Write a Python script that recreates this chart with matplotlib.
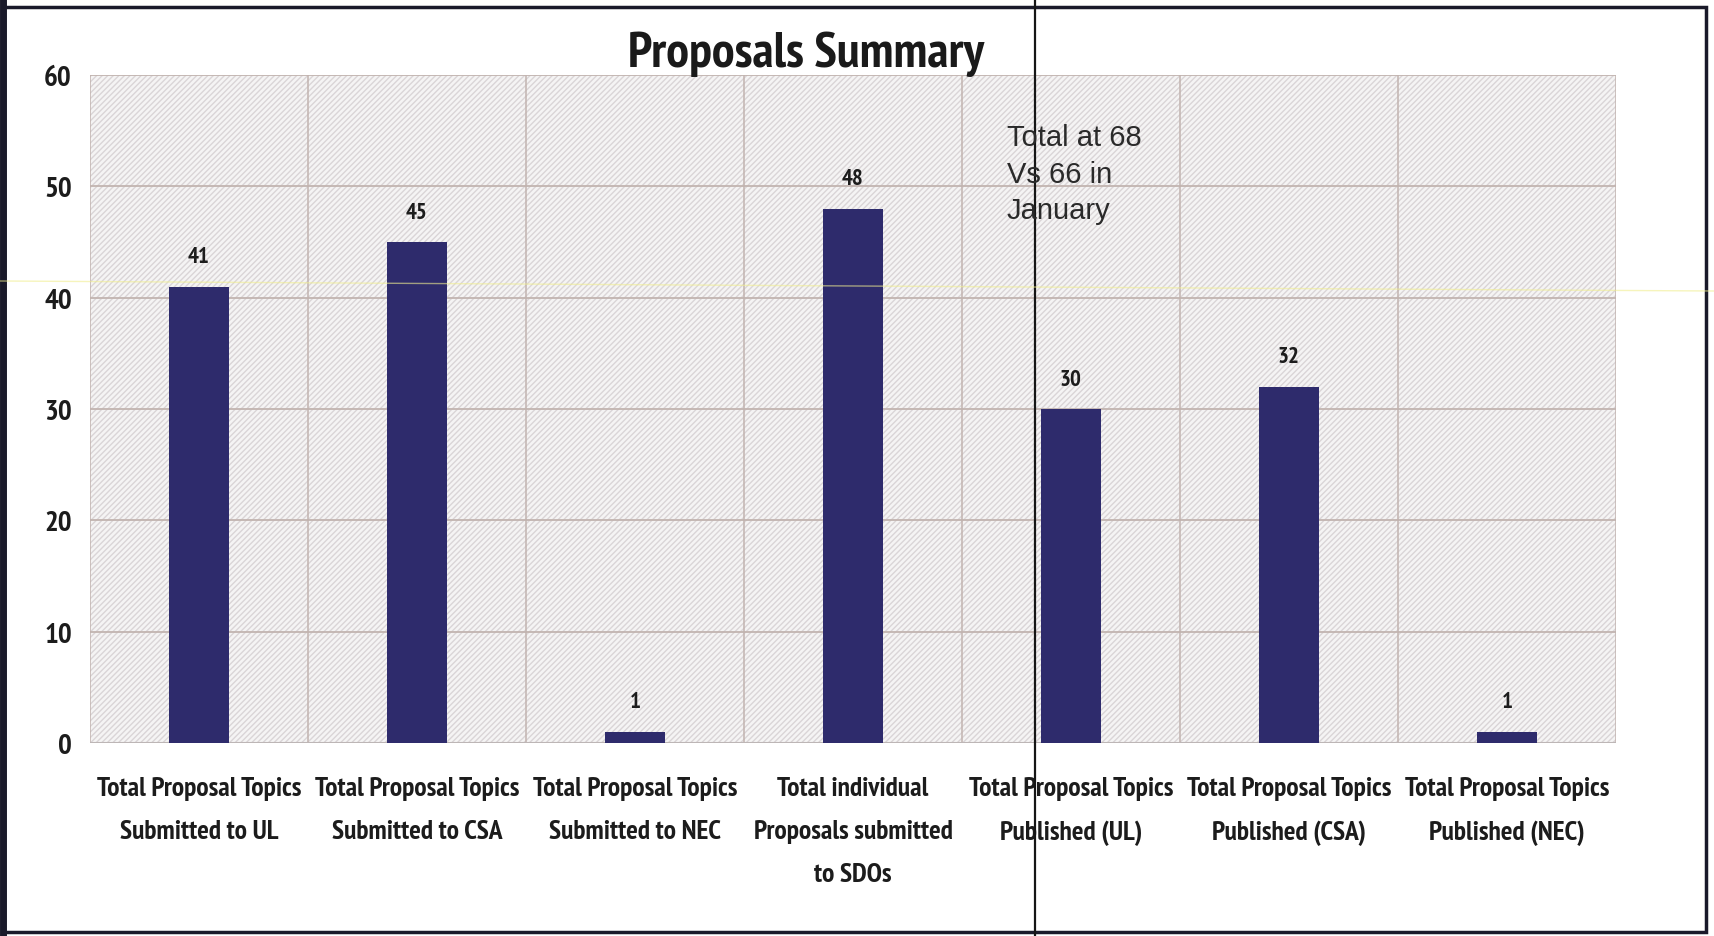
import matplotlib
matplotlib.use("Agg")
import matplotlib.pyplot as plt
from matplotlib import font_manager as fm
from matplotlib.font_manager import FontProperties
from matplotlib.patches import Rectangle
from matplotlib.lines import Line2D

categories = [
    "Total Proposal Topics\nSubmitted to UL",
    "Total Proposal Topics\nSubmitted to CSA",
    "Total Proposal Topics\nSubmitted to NEC",
    "Total individual\nProposals submitted\nto SDOs",
    "Total Proposal Topics\nPublished (UL)",
    "Total Proposal Topics\nPublished (CSA)",
    "Total Proposal Topics\nPublished (NEC)",
]
values = [41, 45, 1, 48, 30, 32, 1]
yticks = [0, 10, 20, 30, 40, 50, 60]
title = "Proposals Summary"
note = "Total at 68\nVs 66 in\nJanuary"

bar_color = "#2e2b6c"
grid_color = "#c2b4b0"
text_color = "#1c1c1c"


def _is_bold(w):
    if isinstance(w, str):
        return w in ("bold", "heavy", "black", "demibold", "semibold", "extra bold")
    return w >= 600


def _is_cond(f):
    st = f.stretch
    if isinstance(st, str):
        cond = "condensed" in st
    else:
        cond = st < 500
    n = f.name.lower()
    return cond or "narrow" in n or "condensed" in n or "cond" in n


def pick_condensed_bold():
    cands = [f for f in fm.fontManager.ttflist if _is_cond(f)]
    bold = [f for f in cands if _is_bold(f.weight)]
    pool = bold or cands
    if pool:
        pref = [f for f in pool if "narrow" in f.name.lower()] or pool
        return FontProperties(fname=pref[0].fname)
    return FontProperties(family=["Roboto", "DejaVu Sans"], weight="bold")


COND = pick_condensed_bold()

fig = plt.figure(figsize=(17.14, 9.37), dpi=100)
fig.patch.set_facecolor("white")
renderer = fig.canvas.get_renderer()


def fitted(s, target_px, base=20.0):
    fp = COND.copy()
    fp.set_size(base)
    t = fig.text(0, 0, s, fontproperties=fp)
    w = t.get_window_extent(renderer).width
    t.remove()
    fp2 = COND.copy()
    fp2.set_size(base * target_px / w)
    return fp2


def pitch_per_ls(fp):
    t1 = fig.text(0, 0, "Ag", fontproperties=fp, linespacing=1.0)
    t2 = fig.text(0, 0, "Ag\nAg", fontproperties=fp, linespacing=1.0)
    h = t2.get_window_extent(renderer).height - t1.get_window_extent(renderer).height
    t1.remove()
    t2.remove()
    return h


fp_title = fitted(title, 356)
fp_xt = fitted("Total Proposal Topics", 205)
fp_yt = fitted("60", 28)
fp_val = fitted("45", 22)
xt_ls = 1.11 * 43.0 / pitch_per_ls(fp_xt)

ax = fig.add_axes([0.0525, 0.2060, 0.8903, 0.7129])
ax.set_facecolor("#f5f4f4")
ax.patch.set_hatch("//////")
ax.patch.set_edgecolor("#dad5d7")
ax.patch.set_linewidth(0)

x = list(range(len(values)))
ax.bar(x, values, width=0.275, color=bar_color, zorder=3)

ax.set_xlim(-0.5, len(values) - 0.5)
ax.set_ylim(0, 60)
ax.set_yticks(yticks)
ax.set_yticklabels([str(t) for t in yticks], fontproperties=fp_yt, color=text_color)
ax.set_xticks(x)
ax.set_xticklabels(categories, fontproperties=fp_xt, color=text_color,
                   linespacing=xt_ls)
ax.tick_params(axis="y", length=0, pad=13)
ax.tick_params(axis="x", length=0, pad=24)

for t in yticks[1:]:
    ax.axhline(t, color=grid_color, lw=1.3, zorder=1)
for b in range(len(values) + 1):
    ax.axvline(b - 0.5, color=grid_color, lw=1.1, zorder=1)
ax.axhline(0, color="#bdb6b6", lw=1.5, zorder=2)
for s in ax.spines.values():
    s.set_visible(False)

for xi, v in zip(x, values):
    ax.annotate(str(v), (xi, v), xytext=(0, 14), textcoords="offset points",
                ha="center", va="bottom", fontproperties=fp_val,
                color=text_color, zorder=4)

fig.text(806 / 1714, 1 - 54 / 937, title, ha="center", va="center",
         fontproperties=fp_title, color="#1a1a1a")

fig.text(1007 / 1714, 1 - 124 / 937, note, ha="left", va="top",
         fontfamily=["Liberation Sans", "DejaVu Sans"], fontsize=21,
         color="#2a2a2a", linespacing=1.39)

# outer frame and scan artifacts
fig.add_artist(Rectangle((3 / 1714, 1 - 933 / 937), 1703 / 1714, 925 / 937,
                         transform=fig.transFigure, fill=False,
                         edgecolor="#1a1a2a", lw=2.5))
fig.add_artist(Line2D([3 / 1714, 3 / 1714], [0, 1], transform=fig.transFigure,
                      color="#1a1a2a", lw=5))
fig.add_artist(Line2D([1035 / 1714, 1035 / 1714], [0, 1], transform=fig.transFigure,
                      color="#151515", lw=1.6))
fig.add_artist(Line2D([0, 1], [1 - 282 / 937, 1 - 292 / 937], transform=fig.transFigure,
                      color="#f0ee90", lw=1.0, alpha=0.6))

fig.savefig("out.png", dpi=100)
